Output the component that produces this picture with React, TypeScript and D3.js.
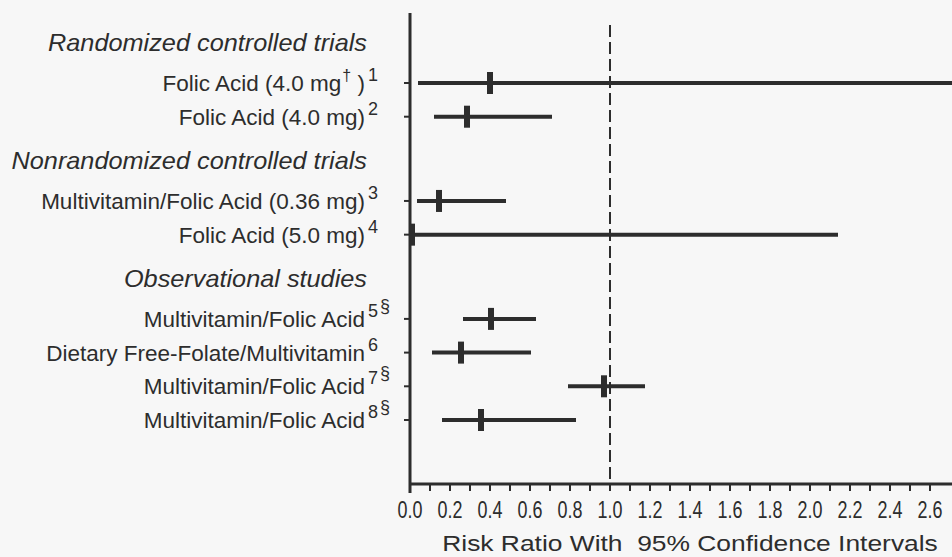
import React, { useRef, useEffect } from "react";
import * as d3 from "d3";

const width = 952;
const height = 557;
const ink = "#2d2d2d";
const font = "'Liberation Sans', Arial, Helvetica, sans-serif";

// study groups and rows
const groupNames = [
    "Randomized controlled trials",
    "Nonrandomized controlled trials",
    "Observational studies",
];
const studyGroup = [0, 0, 1, 1, 2, 2, 2, 2];
const studyLabels = [
    "Folic Acid (4.0 mg† )",
    "Folic Acid (4.0 mg)",
    "Multivitamin/Folic Acid (0.36 mg)",
    "Folic Acid (5.0 mg)",
    "Multivitamin/Folic Acid",
    "Dietary Free-Folate/Multivitamin",
    "Multivitamin/Folic Acid",
    "Multivitamin/Folic Acid",
];
const refNumbers = ["1", "2", "3", "4", "5", "6", "7", "8"];
const sectionMark = [false, false, false, false, true, false, true, true];

// risk ratio with 95% CI
const riskRatio = [0.4, 0.285, 0.145, 0.01, 0.405, 0.255, 0.97, 0.355];
const ciLower = [0.04, 0.12, 0.035, 0.0, 0.265, 0.11, 0.79, 0.16];
const ciUpper = [3.6, 0.71, 0.48, 2.14, 0.63, 0.605, 1.175, 0.83];

const tickLabels = [
    "0.0", "0.2", "0.4", "0.6", "0.8", "1.0", "1.2",
    "1.4", "1.6", "1.8", "2.0", "2.2", "2.4", "2.6",
];
const axisTitle = "Risk Ratio With  95% Confidence Intervals";

const x = d3.scaleLinear().domain([0, 2.71]).range([410, width]).clamp(true);
// each group header takes an extra 1.5 row slots
const slot = (i) => i + studyGroup[i] * 1.5;
const y = d3.scaleLinear().domain([0, 10]).range([83, 420]);
const axisY = 484;

function drawChart(el) {
    const svg = d3.select(el);
    svg.selectAll("*").remove();

    svg.append("rect")
        .attr("width", width)
        .attr("height", height)
        .attr("fill", "#f7f7f7");

    const g = svg.append("g").style("font-family", font).attr("fill", ink);

    // reference line at RR = 1
    g.append("line")
        .attr("x1", x(1))
        .attr("x2", x(1))
        .attr("y1", 25)
        .attr("y2", axisY)
        .attr("stroke", ink)
        .attr("stroke-width", 2)
        .attr("stroke-dasharray", "12,5");

    // axes
    g.append("line")
        .attr("x1", x(0))
        .attr("x2", x(0))
        .attr("y1", 13)
        .attr("y2", axisY + 9)
        .attr("stroke", ink)
        .attr("stroke-width", 3);
    g.append("line")
        .attr("x1", x(0))
        .attr("x2", width)
        .attr("y1", axisY)
        .attr("y2", axisY)
        .attr("stroke", ink)
        .attr("stroke-width", 3);

    const minor = d3.range(0, 27).map((i) => i / 10);
    g.append("g")
        .selectAll("line")
        .data(minor)
        .join("line")
        .attr("x1", (d) => x(d))
        .attr("x2", (d) => x(d))
        .attr("y1", axisY)
        .attr("y2", axisY + 7)
        .attr("stroke", ink)
        .attr("stroke-width", 2);

    g.append("g")
        .selectAll("g")
        .data(tickLabels)
        .join("g")
        .attr("transform", (d) => `translate(${x(+d)},518) scale(0.78,1)`)
        .append("text")
        .attr("text-anchor", "middle")
        .style("font-size", "23px")
        .text((d) => d);

    g.append("g")
        .attr("transform", `translate(${(x(0) + width) / 2 + 9},551) scale(1.2,1)`)
        .append("text")
        .attr("text-anchor", "middle")
        .style("font-size", "22px")
        .style("white-space", "pre")
        .text(axisTitle);

    // group headers
    groupNames.forEach((name, gi) => {
        const first = studyGroup.indexOf(gi);
        g.append("g")
            .attr("transform", `translate(367,${y(slot(first)) - 32}) scale(1.1,1)`)
            .append("text")
            .attr("text-anchor", "end")
            .style("font-size", "23px")
            .style("font-style", "italic")
            .text(name);
    });

    const rows = g.selectAll("g.row")
        .data(studyLabels.map((label, i) => ({ label, i })))
        .join("g")
        .attr("class", "row")
        .attr("transform", (d) => `translate(0,${y(slot(d.i))})`);

    // y ticks
    rows.append("line")
        .attr("x1", x(0) - 6)
        .attr("x2", x(0))
        .attr("stroke", ink)
        .attr("stroke-width", 2);

    // confidence intervals
    rows.append("line")
        .attr("x1", (d) => x(ciLower[d.i]))
        .attr("x2", (d) => x(ciUpper[d.i]))
        .attr("stroke", ink)
        .attr("stroke-width", 4);

    rows.append("rect")
        .attr("x", (d) => x(riskRatio[d.i]) - 3)
        .attr("y", -11)
        .attr("width", 6)
        .attr("height", 22);

    // labels with superscripts
    const label = rows.append("text")
        .attr("x", 378)
        .attr("y", 8)
        .attr("text-anchor", "end")
        .style("font-size", "22.5px")
        .style("white-space", "pre");

    label.each(function (d) {
        const t = d3.select(this);
        const parts = d.label.split("†");
        t.append("tspan").text(parts[0]);
        if (parts.length > 1) {
            t.append("tspan").attr("dy", -10).attr("dx", 1).style("font-size", "16px").text("†");
            t.append("tspan").attr("dy", 10).text(parts[1]);
        }
        t.append("tspan")
            .attr("dy", -10)
            .attr("dx", 3)
            .style("font-size", "18px")
            .text(refNumbers[d.i]);
    });

    rows.filter((d) => sectionMark[d.i])
        .append("text")
        .attr("x", 380)
        .attr("y", -7)
        .style("font-size", "18px")
        .text("§");
}

export default function App() {
    const ref = useRef(null);

    useEffect(() => {
        if (ref.current) drawChart(ref.current);
    }, []);

    return (
        <svg
            ref={ref}
            width={width}
            height={height}
            style={{ position: "absolute", left: 0, top: 0, display: "block" }}
        />
    );
}
